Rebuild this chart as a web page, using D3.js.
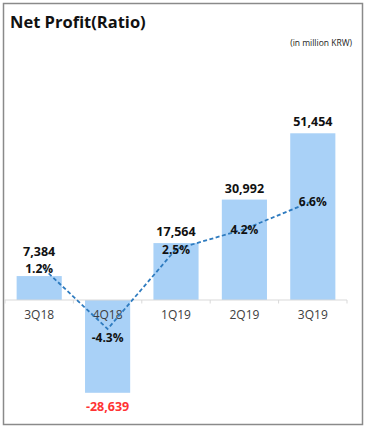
<!DOCTYPE html>
<html><head><meta charset="utf-8">
<script src="https://cdn.jsdelivr.net/npm/d3@7"></script>
<style>
html,body{margin:0;padding:0;background:#fff;}
svg{display:block;}
</style></head>
<body>
<svg id="chart" width="367" height="429"></svg>
<script>
const categories = ["3Q18","4Q18","1Q19","2Q19","3Q19"];
const netProfit = [7384, -28639, 17564, 30992, 51454];
const ratio = [1.2, -4.3, 2.5, 4.2, 6.6];
const ratioLabels = ["1.2%","-4.3%","2.5%","4.2%","6.6%"];
const valueLabels = ["7,384","-28,639","17,564","30,992","51,454"];
const title = "Net Profit(Ratio)";
const unitNote = "(in million KRW)";

const FONT = "'Open Sans', 'Noto Sans', sans-serif";
const svg = d3.select("#chart");

svg.append("rect").attr("x",3.5).attr("y",3.5).attr("width",359).attr("height",421)
  .attr("fill","#fff").attr("stroke","#8a8a8a").attr("stroke-width",1.5);

svg.append("text").attr("x",10).attr("y",28).text(title)
  .attr("font-family",FONT).attr("font-weight",700).attr("font-size",16.5).attr("fill","#111");
svg.append("text").attr("x",352).attr("y",46).attr("text-anchor","end").text(unitNote)
  .attr("font-family",FONT).attr("font-size",8.5).attr("fill","#222");

const x = d3.scaleBand().domain(categories).range([5,347]).paddingInner(0.34).paddingOuter(0.17);
const y = d3.scaleLinear().domain([-40000,60000]).range([429.6,105.6]);
const yr = d3.scaleLinear().domain([-10,10]).range([395.9,161.1]);
const cx = c => x(c) + x.bandwidth()/2;

// bars
svg.append("g").selectAll("rect").data(categories).join("rect")
  .attr("x", c => x(c)).attr("width", x.bandwidth())
  .attr("y", (c,i) => Math.min(y(netProfit[i]), y(0)))
  .attr("height", (c,i) => Math.abs(y(netProfit[i]) - y(0)))
  .attr("fill","#a9d1f7");

// axis
const axisG = svg.append("g");
axisG.append("line").attr("x1",4).attr("x2",347).attr("y1",y(0)).attr("y2",y(0))
  .attr("stroke","#d9d9d9").attr("stroke-width",1);
const step = x.step();
const bounds = categories.map(c => cx(c) - step/2).concat([cx(categories[categories.length-1]) + step/2]);
axisG.selectAll("line.tick").data(bounds).join("line").attr("class","tick")
  .attr("x1",d=>d).attr("x2",d=>d).attr("y1",y(0)).attr("y2",y(0)+3.5)
  .attr("stroke","#d9d9d9").attr("stroke-width",1);
axisG.selectAll("text").data(categories).join("text")
  .attr("x", c => cx(c)).attr("y", y(0)+19).attr("text-anchor","middle")
  .attr("font-family",FONT).attr("font-size",12).attr("fill","#404040").text(c => c);

// ratio line
const line = d3.line().x((d,i) => cx(categories[i])).y(d => yr(d));
svg.append("path").datum(ratio).attr("d", line).attr("fill","none")
  .attr("stroke","#2e7bbf").attr("stroke-width",1.8).attr("stroke-dasharray","4,2.5");

// label positions
const valueY = netProfit.map((v,i) => v >= 0 ? Math.min(y(v) - 7, yr(ratio[i]) - 8) : y(v) + 18);
const ratioY = ratio.map((r,i) => r >= 0 ? Math.max(yr(r) + 5, valueY[i] + 16.8) : yr(r) + 13);

// value labels
svg.append("g").selectAll("text").data(categories).join("text")
  .attr("x", c => cx(c))
  .attr("y", (c,i) => valueY[i])
  .attr("text-anchor","middle").attr("font-family",FONT).attr("font-weight",700)
  .attr("font-size",12.5).attr("fill",(c,i) => netProfit[i] >= 0 ? "#111" : "#ff3333")
  .text((c,i) => valueLabels[i]);

// ratio labels
svg.append("g").selectAll("text").data(categories).join("text")
  .attr("x", c => cx(c))
  .attr("y", (c,i) => ratioY[i])
  .attr("text-anchor","middle").attr("font-family",FONT).attr("font-weight",700)
  .attr("font-size",12).attr("fill","#111")
  .text((c,i) => ratioLabels[i]);
</script>
</body></html>
